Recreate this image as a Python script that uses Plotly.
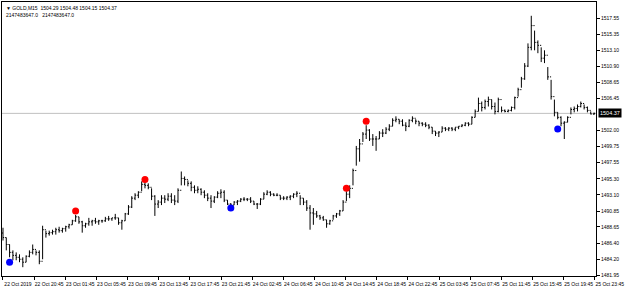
import plotly.graph_objects as go

# ---- data (GOLD, M15) ----
highs = [1488.53, 1487.17, 1486.21, 1485.40, 1485.12, 1484.85, 1484.44, 1484.71, 1485.40, 1486.21,
         1485.40, 1485.40, 1488.81, 1488.13, 1488.13, 1488.26, 1488.53, 1488.67, 1488.53, 1488.81,
         1489.08, 1489.63, 1490.31, 1490.04, 1489.49, 1489.22, 1489.90, 1489.63, 1489.90, 1489.63,
         1489.63, 1490.04, 1490.17, 1489.90, 1490.45, 1489.90, 1489.63, 1490.58, 1491.67, 1492.90,
         1493.31, 1493.59, 1494.95, 1495.09, 1494.68, 1493.99, 1493.04, 1492.36, 1493.04, 1493.04,
         1493.31, 1493.31, 1493.04, 1493.99, 1496.32, 1495.63, 1495.09, 1494.95, 1494.40, 1494.27,
         1493.99, 1493.72, 1493.31, 1493.04, 1492.90, 1493.59, 1493.86, 1493.72, 1492.36, 1491.95,
         1492.22, 1492.36, 1492.63, 1492.77, 1492.63, 1492.77, 1492.22, 1491.95, 1492.63, 1493.45,
         1493.72, 1493.59, 1493.31, 1493.31, 1493.04, 1492.90, 1492.90, 1493.04, 1493.31, 1493.59,
         1493.04, 1492.63, 1492.36, 1491.67, 1491.26, 1490.86, 1490.31, 1490.17, 1489.63, 1489.63,
         1490.31, 1490.58, 1491.00, 1492.36, 1493.59, 1494.40, 1496.72, 1499.86, 1500.82, 1501.78,
         1502.73, 1502.18, 1501.50, 1501.23, 1501.91, 1502.18, 1502.46, 1502.87, 1503.69, 1503.96,
         1503.55, 1503.55, 1503.14, 1503.55, 1503.96, 1503.55, 1503.28, 1503.14, 1503.14, 1502.87,
         1502.46, 1501.91, 1501.91, 1502.59, 1502.46, 1502.46, 1502.46, 1502.46, 1502.59, 1502.87,
         1503.14, 1503.14, 1503.96, 1504.91, 1506.55, 1506.01, 1506.28, 1506.69, 1506.28, 1505.87,
         1506.55, 1505.32, 1504.91, 1504.91, 1505.32, 1506.69, 1507.92, 1509.42, 1511.33, 1514.06,
         1517.88, 1515.83, 1514.47, 1513.51, 1513.10, 1510.78, 1509.01, 1506.28, 1504.51, 1503.96,
         1503.28, 1503.96, 1505.19, 1505.32, 1505.60, 1506.01, 1505.60, 1505.32, 1504.64, 1504.48]

lows = [1486.76, 1485.40, 1484.44, 1484.03, 1484.03, 1483.76, 1483.07, 1483.76, 1484.44, 1484.85,
        1484.71, 1483.48, 1484.17, 1487.17, 1487.44, 1487.58, 1487.58, 1487.85, 1487.85, 1487.99,
        1488.40, 1488.94, 1489.35, 1489.08, 1487.85, 1488.53, 1488.81, 1488.81, 1489.08, 1488.94,
        1489.22, 1489.35, 1489.49, 1489.49, 1489.63, 1488.94, 1488.26, 1489.49, 1490.31, 1491.26,
        1492.36, 1492.63, 1493.59, 1493.99, 1493.86, 1492.36, 1490.17, 1491.26, 1491.67, 1491.95,
        1492.22, 1491.95, 1491.67, 1491.95, 1494.40, 1494.40, 1494.27, 1493.59, 1493.31, 1493.31,
        1493.04, 1492.63, 1492.22, 1491.26, 1491.95, 1492.63, 1492.63, 1492.08, 1491.67, 1491.40,
        1491.67, 1491.67, 1492.08, 1492.22, 1492.22, 1491.95, 1491.67, 1491.13, 1491.67, 1492.49,
        1493.04, 1492.90, 1492.90, 1492.90, 1492.36, 1492.36, 1492.36, 1492.36, 1492.63, 1492.77,
        1491.67, 1491.67, 1490.86, 1488.26, 1488.94, 1489.90, 1489.63, 1489.49, 1488.53, 1488.94,
        1489.63, 1489.90, 1490.17, 1490.86, 1492.22, 1492.63, 1494.40, 1497.13, 1497.68, 1500.41,
        1500.82, 1500.55, 1499.86, 1499.18, 1500.82, 1501.09, 1501.50, 1501.91, 1502.59, 1503.14,
        1502.87, 1502.59, 1501.91, 1502.46, 1503.14, 1502.87, 1502.59, 1502.59, 1502.46, 1502.18,
        1501.50, 1501.23, 1501.09, 1501.78, 1501.91, 1501.91, 1501.91, 1501.91, 1502.18, 1502.46,
        1502.59, 1502.59, 1502.87, 1503.82, 1504.64, 1504.64, 1504.91, 1505.32, 1504.91, 1504.23,
        1504.51, 1504.51, 1504.51, 1504.51, 1504.64, 1504.91, 1506.69, 1507.92, 1509.01, 1510.78,
        1513.10, 1513.10, 1512.70, 1511.47, 1511.33, 1509.01, 1506.28, 1503.96, 1503.55, 1502.59,
        1500.82, 1503.14, 1504.23, 1504.51, 1504.64, 1505.19, 1504.91, 1504.51, 1504.23, 1504.15]

closes = [1487.17, 1486.21, 1485.12, 1484.71, 1484.44, 1484.17, 1483.76, 1484.58, 1485.12, 1485.53,
          1485.12, 1483.89, 1488.26, 1487.72, 1487.85, 1487.99, 1488.26, 1488.13, 1488.40, 1488.67,
          1488.94, 1489.49, 1490.04, 1489.35, 1488.81, 1489.08, 1489.35, 1489.49, 1489.35, 1489.49,
          1489.49, 1489.76, 1489.76, 1489.90, 1489.90, 1489.22, 1489.49, 1490.45, 1491.40, 1492.63,
          1493.04, 1493.45, 1494.54, 1494.40, 1494.13, 1492.90, 1491.81, 1492.08, 1492.63, 1492.49,
          1492.90, 1492.36, 1492.22, 1493.72, 1495.36, 1495.22, 1494.68, 1494.13, 1493.72, 1493.86,
          1493.45, 1493.04, 1492.63, 1492.22, 1492.77, 1493.31, 1493.45, 1492.36, 1491.81, 1491.67,
          1492.08, 1492.22, 1492.49, 1492.49, 1492.49, 1492.22, 1491.81, 1491.81, 1492.49, 1493.18,
          1493.45, 1493.18, 1493.04, 1493.04, 1492.63, 1492.63, 1492.77, 1492.90, 1493.18, 1493.31,
          1492.63, 1492.08, 1491.26, 1490.58, 1490.45, 1490.17, 1489.90, 1489.63, 1489.08, 1489.49,
          1490.17, 1490.45, 1490.86, 1492.08, 1493.18, 1493.99, 1496.45, 1499.46, 1500.14, 1501.50,
          1502.05, 1500.82, 1500.82, 1500.82, 1501.64, 1501.64, 1502.18, 1502.59, 1503.41, 1503.55,
          1503.28, 1502.73, 1502.59, 1503.41, 1503.69, 1503.28, 1503.01, 1502.87, 1502.73, 1502.46,
          1501.91, 1501.64, 1501.78, 1502.32, 1502.18, 1502.32, 1502.18, 1502.46, 1502.59, 1502.73,
          1503.01, 1502.87, 1503.82, 1504.64, 1505.74, 1505.19, 1506.01, 1506.28, 1505.32, 1504.64,
          1506.28, 1504.78, 1504.64, 1504.78, 1505.19, 1506.55, 1507.65, 1509.15, 1510.92, 1513.51,
          1516.52, 1514.20, 1513.79, 1512.01, 1512.42, 1509.42, 1506.69, 1504.51, 1503.82, 1503.01,
          1503.14, 1503.82, 1504.91, 1505.05, 1505.32, 1505.74, 1505.19, 1504.78, 1504.29, 1504.37]

first_open = 1487.80
opens = [first_open] + closes[:-1]

# fractal / swing markers (bar index, price)
red_idx = [22, 43, 104, 110]
red_price = [1490.86, 1495.22, 1493.99, 1503.28]
blue_idx = [2, 69, 168]
blue_price = [1483.76, 1491.26, 1502.19]

last_price = 1504.37
header_line1 = "\u25bc GOLD,M15  1504.29 1504.48 1504.15 1504.37"
header_line2 = "2147483647.0   2147483647.0"

y_ticks = [1481.95, 1484.20, 1486.40, 1488.65, 1490.85, 1493.10, 1495.30, 1497.55,
           1499.75, 1502.00, 1506.45, 1508.65, 1510.90, 1513.10, 1515.35, 1517.55]

x_labels = ["22 Oct 2019", "22 Oct 20:45", "23 Oct 01:45", "23 Oct 05:45", "23 Oct 09:45",
            "23 Oct 13:45", "23 Oct 17:45", "23 Oct 21:45", "24 Oct 02:45", "24 Oct 06:45",
            "24 Oct 10:45", "24 Oct 14:45", "24 Oct 18:45", "24 Oct 22:45", "25 Oct 03:45",
            "25 Oct 07:45", "25 Oct 11:45", "25 Oct 15:45", "25 Oct 19:45", "25 Oct 23:45"]

# ---- figure ----
n = len(closes)
xs = list(range(n))
label_spacing = 9.433  # bars between time labels
x_tickvals = [i * label_spacing for i in range(len(x_labels))]

FONT = "Liberation Sans"

fig = go.Figure()
fig.add_trace(go.Ohlc(
    x=xs, open=opens, high=highs, low=lows, close=closes,
    increasing=dict(line=dict(color="#000000", width=1)),
    decreasing=dict(line=dict(color="#000000", width=1)),
    tickwidth=0.35, hoverinfo="skip", showlegend=False,
))
fig.add_trace(go.Scatter(x=red_idx, y=red_price, mode="markers",
                         marker=dict(color="#FF0000", size=7), showlegend=False))
fig.add_trace(go.Scatter(x=blue_idx, y=blue_price, mode="markers",
                         marker=dict(color="#0000FF", size=7), showlegend=False))

fig.add_shape(type="line", xref="paper", x0=0, x1=1, y0=last_price, y1=last_price,
              line=dict(color="#C0C0C0", width=1), layer="below")

fig.add_annotation(xref="paper", x=1.0, xanchor="left", xshift=2, y=last_price, yanchor="middle",
                   text=f"{last_price:.2f}", showarrow=False, bgcolor="#000000",
                   font=dict(color="#FFFFFF", size=5.5, family=FONT), borderpad=1)
fig.add_annotation(xref="paper", yref="paper", x=0.0, y=1.0, xanchor="left", yanchor="top",
                   xshift=2, yshift=-1, text=header_line1, showarrow=False,
                   font=dict(color="#000000", size=5, family=FONT))
fig.add_annotation(xref="paper", yref="paper", x=0.0, y=1.0, xanchor="left", yanchor="top",
                   xshift=2, yshift=-8, text=header_line2, showarrow=False,
                   font=dict(color="#000000", size=5, family=FONT))

fig.update_layout(
    width=625, height=288,
    margin=dict(l=1, r=27, t=1, b=9),
    paper_bgcolor="#FFFFFF", plot_bgcolor="#FFFFFF",
    showlegend=False,
    xaxis=dict(range=[-0.3, 179.6], rangeslider=dict(visible=False),
               tickvals=x_tickvals, ticktext=x_labels, ticks="outside", ticklen=3,
               tickcolor="#000000", ticklabelshift=15, ticklabelstandoff=0,
               ticklabeloverflow="allow",
               tickfont=dict(size=5, family=FONT, color="#000000"),
               showgrid=False, zeroline=False, showline=True, linecolor="#000000",
               linewidth=1, mirror=True),
    yaxis=dict(range=[1481.85, 1519.79], side="right", tickvals=y_ticks,
               tickformat=".2f", ticks="outside", ticklen=3, tickcolor="#000000",
               tickfont=dict(size=5, family=FONT, color="#000000"),
               showgrid=False, zeroline=False, showline=True, linecolor="#000000",
               linewidth=1, mirror=True),
)

fig.write_html("out.html")
